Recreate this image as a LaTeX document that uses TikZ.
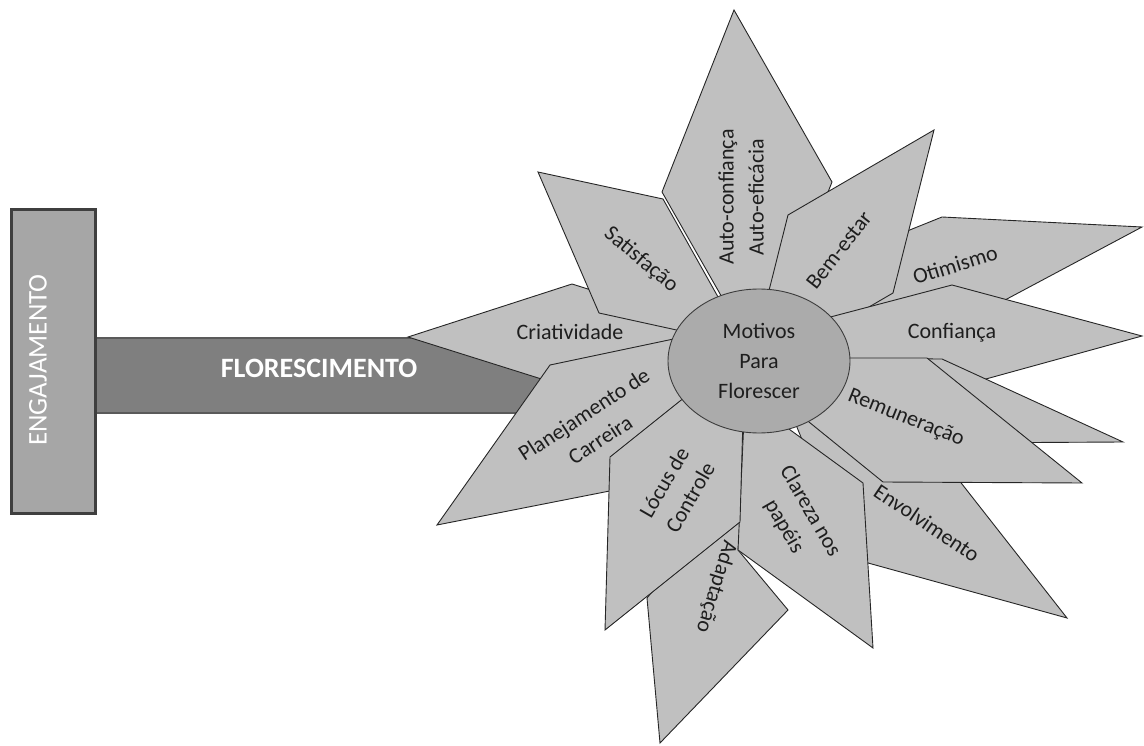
\documentclass[tikz,border=0pt]{standalone}
\usepackage{fontspec}
\setmainfont{Carlito}
\usetikzlibrary{shapes.geometric}
\definecolor{petal}{HTML}{C0C0C0}
\definecolor{outline}{HTML}{262626}
\definecolor{core}{HTML}{ABABAB}
\definecolor{stem}{HTML}{7F7F7F}
\definecolor{stemline}{HTML}{5A5A5A}
\definecolor{root}{HTML}{A6A6A6}
\definecolor{rootline}{HTML}{3F3F3F}
\definecolor{ink}{HTML}{1E1E1E}

\begin{document}
\begin{tikzpicture}[x=1pt,y=-1pt,
  leaf/.style={fill=petal,draw=outline,line width=0.9pt},
  lbl/.style={text=ink,font=\fontsize{22}{30}\selectfont,align=center,inner sep=0pt},
  centre/.style={ellipse,fill=core,draw=outline!90,line width=0.9pt,minimum width=182pt,minimum height=144pt,inner sep=0pt}]
  \useasboundingbox (0,0) rectangle (1144,746);
  % stem and root
  \filldraw[fill=stem,draw=stemline,line width=2pt] (95,338) rectangle (560,413);
  \node[text=white,font=\fontsize{28}{30}\selectfont\bfseries] (flor) at (319,368) {FLORESCIMENTO};
  \filldraw[fill=root,draw=rootline,line width=3pt] (11,210) rectangle (95,513);
  \node[text=white,font=\fontsize{27}{30}\selectfont,rotate=90] (engaj) at (38,360) {ENGAJAMENTO};
  % petals, back to front
  \filldraw[leaf] (734,10) -- (832,182) -- (760,364) -- (662,192) -- cycle;
  \filldraw[leaf] (942,217) -- (1142,227) -- (990,308) -- (820,330) -- (860,250) -- cycle;
  \filldraw[leaf] (934,130) -- (893,293) -- (747,378) -- (788,215) -- cycle;
  \filldraw[leaf] (952,285) -- (1142,336) -- (975,382) -- (960,400) -- (800,370) -- (800,325) -- cycle;
  \filldraw[leaf] (942,359) -- (1123,442) -- (941,443) -- (760,358) -- cycle;
  \filldraw[leaf] (1067,618) -- (940,456) -- (790,410) -- (850,558) -- cycle;
  \filldraw[leaf] (927,358) -- (1082,483) -- (883,482) -- (730,358) -- cycle;
  \filldraw[leaf] (660,743) -- (788,610) -- (738,550) -- (745,480) -- (647,598) -- cycle;
  \filldraw[leaf] (873,648) -- (863,483) -- (745,397) -- (738,550) -- cycle;
  \filldraw[leaf] (408,337) -- (572,284) -- (715,329) -- (551,382) -- cycle;
  \filldraw[leaf] (538,172) -- (663,199) -- (745,345) -- (599,313) -- cycle;
  \filldraw[leaf] (437,525) -- (550,365) -- (740,325) -- (745,420) -- (625,488) -- cycle;
  \filldraw[leaf] (605,630) -- (610,457) -- (745,349) -- (740,522) -- cycle;
  \node[centre,lbl] (motivos) at (759,361) {Motivos\\Para\\Florescer};
  % petal labels
  \foreach \nm/\x/\y/\ang/\txt in {
      criat/570/332/0/Criatividade, satis/641/260/-40/Satisfação,
      auto/741/197/90/{Auto-confiança\\Auto-eficácia}, bem/839/250/52/Bem-estar,
      otim/955/265/17/Otimismo, conf/952/333/0/Confiança,
      remun/906/418/-22/Remuneração, envol/927/523/-34/Envolvimento,
      clar/797/519/-60/{Clareza nos\\papéis}, adapt/716/587/-107/Adaptação,
      locus/677/490/60/{Lócus de\\Controle}, plan/592/427/33/{Planejamento de\\Carreira}}
    \node[lbl,rotate=\ang] (\nm) at (\x,\y) {\txt};
\end{tikzpicture}
\end{document}
